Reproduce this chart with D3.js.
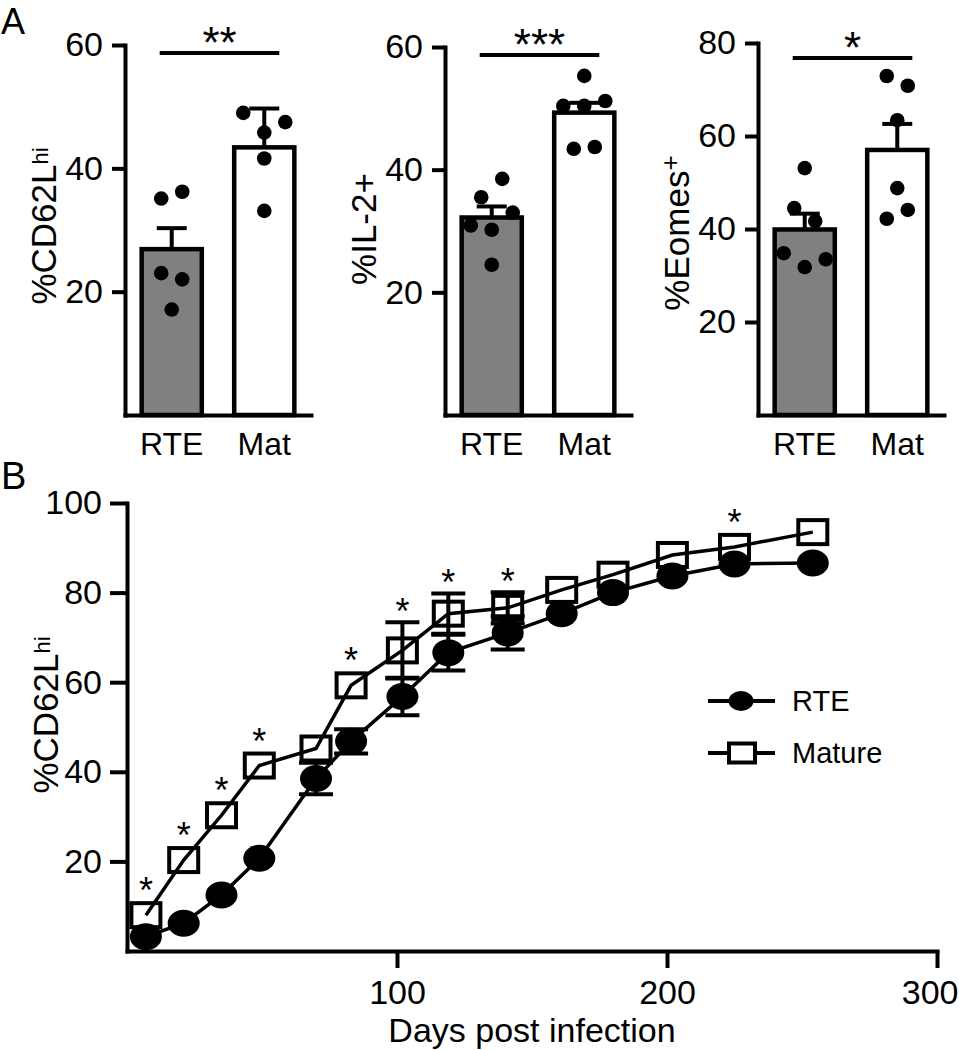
<!DOCTYPE html>
<html><head><meta charset="utf-8">
<script src="https://cdn.jsdelivr.net/npm/d3@7"></script>
<style>
body{margin:0;background:#fff}
svg{display:block}
text{font-family:"Liberation Sans",Arial,Helvetica,sans-serif;fill:#000}
</style>
</head><body>
<svg id="c" width="959" height="1050"></svg>
<script>
// ---------------- DATA ----------------
const catsA = ["RTE", "Mat"];

// Panel A1: %CD62Lhi
const a1Mean = [26.9, 43.4];
const a1Sem = [3.4, 6.3];
const a1Rte = [35.1, 36.2, 23.0, 22.0, 17.1];
const a1Mat = [49.0, 45.8, 47.5, 41.6, 33.1];
const a1Ticks = [20, 40, 60];
const a1Sig = "**";

// Panel A2: %IL-2+
const a2Mean = [32.2, 49.3];
const a2Sem = [1.8, 1.6];
const a2Rte = [35.5, 38.5, 30.9, 30.2, 33.0, 24.5];
const a2Mat = [55.3, 50.4, 50.4, 51.2, 43.4, 43.7];
const a2Ticks = [20, 40, 60];
const a2Sig = "***";

// Panel A3: %Eomes+
const a3Mean = [39.9, 57.0];
const a3Sem = [3.4, 5.6];
const a3Rte = [44.5, 53.1, 41.7, 34.8, 31.8, 33.5];
const a3Mat = [72.9, 70.8, 63.4, 48.8, 42.2, 44.1];
const a3Ticks = [20, 40, 60, 80];
const a3Sig = "*";

// Panel B: %CD62Lhi over time
const days = [7, 21, 35, 49, 70, 83, 102, 119, 141, 161, 180, 202, 225, 254];
const rteMean = [3.2, 6.2, 12.5, 20.7, 38.5, 46.8, 56.8, 66.6, 71.0, 75.3, 80.0, 83.7, 86.4, 86.6];
const rteSem  = [null, null, null, null, 3.5, 2.7, 4.2, 4.0, 3.7, null, null, null, null, null];
const matMean = [8.0, 20.3, 30.3, 41.4, 45.2, 59.3, 67.1, 75.3, 76.6, 80.6, 84.0, 88.4, 90.2, 93.5];
const matSem  = [null, null, null, null, null, null, 6.3, 4.5, 3.5, null, null, null, null, null];
const sigB    = ["*", "*", "*", "*", "", "*", "*", "*", "*", "", "", "", "*", ""];
const bXTicks = [100, 200, 300];
const bYTicks = [20, 40, 60, 80, 100];
const legendLabels = ["RTE", "Mature"];

// ---------------- DRAW ----------------
const svg = d3.select("#c");
const SW = 4;
const barFills = ["#808080", "#ffffff"];

svg.append("text").attr("x", 1).attr("y", 34).attr("font-size", 36).text("A");
svg.append("text").attr("x", 1).attr("y", 489).attr("font-size", 38).text("B");

function swarm(values, y, cx, T, d) {
  const idx = values.map((v, i) => i).sort((a, b) => values[a] - values[b]);
  const rows = [];
  let cur = null;
  idx.forEach(i => {
    const py = y(values[i]);
    if (cur && Math.abs(py - cur.anchor) <= T) cur.members.push(i);
    else { cur = {anchor: py, members: [i]}; rows.push(cur); }
  });
  const out = [];
  rows.forEach(r => {
    const m = r.members.slice().sort((a, b) => a - b);
    m.forEach((i, k) => out.push({v: values[i], x: cx + (k - (m.length - 1) / 2) * d, y: y(values[i])}));
  });
  return out;
}

function styleAxis(g, fs) {
  g.attr("font-family", null).attr("font-size", null);
  g.selectAll("path.domain").attr("stroke", "#000").attr("stroke-width", SW).attr("stroke-linecap", "square");
  g.selectAll(".tick line").attr("stroke", "#000").attr("stroke-width", SW);
  g.selectAll(".tick text").attr("font-size", fs).attr("fill", "#000");
}

function drawBarPanel(p) {
  const g = svg.append("g");
  const bottom = 415;
  const x = d3.scaleBand().domain(catsA).range([p.x0, p.x0 + 186]).paddingInner(0.35).paddingOuter(0.18);
  const y = d3.scaleLinear().domain([0, d3.max(p.ticks)]).range([bottom, p.top]);
  const bw = x.bandwidth();

  // bars
  g.selectAll("rect.bar").data(catsA).join("rect").attr("class", "bar")
    .attr("x", d => x(d)).attr("width", bw)
    .attr("y", (d, i) => y(p.mean[i])).attr("height", (d, i) => y(0) - y(p.mean[i]))
    .attr("fill", (d, i) => barFills[i]).attr("stroke", "#000").attr("stroke-width", 4.5);

  // error bars (upward)
  catsA.forEach((c, i) => {
    const cx = x(c) + bw / 2;
    g.append("line").attr("x1", cx).attr("x2", cx).attr("y1", y(p.mean[i])).attr("y2", y(p.mean[i] + p.sem[i]))
      .attr("stroke", "#000").attr("stroke-width", SW);
    g.append("line").attr("x1", cx - 15).attr("x2", cx + 15).attr("y1", y(p.mean[i] + p.sem[i])).attr("y2", y(p.mean[i] + p.sem[i]))
      .attr("stroke", "#000").attr("stroke-width", SW);
  });

  // y axis
  const ya = g.append("g").attr("transform", `translate(${p.x0},0)`)
    .call(d3.axisLeft(y).tickValues(p.ticks).tickSize(13).tickSizeOuter(0).tickPadding(9));
  styleAxis(ya, 34);
  // x axis (baseline + category labels)
  const xa = g.append("g").attr("transform", `translate(0,${bottom})`)
    .call(d3.axisBottom(x).tickSize(0).tickSizeOuter(0).tickPadding(17));
  styleAxis(xa, 32);

  // dots
  [p.rte, p.mat].forEach((vals, i) => {
    const pts = swarm(vals, y, x(catsA[i]) + bw / 2, 20, 21);
    g.selectAll(null).data(pts).join("circle")
      .attr("cx", d => d.x).attr("cy", d => d.y).attr("r", 7.3).attr("fill", "#000");
  });

  // significance
  const sy = p.top + p.sigGap;
  const sx1 = x(catsA[0]) + bw * 0.3, sx2 = x(catsA[1]) + bw * 0.75;
  g.append("line").attr("x1", sx1).attr("x2", sx2).attr("y1", sy).attr("y2", sy)
    .attr("stroke", "#000").attr("stroke-width", SW);
  g.append("text").attr("x", (sx1 + sx2) / 2).attr("y", sy + 5).attr("text-anchor", "middle")
    .attr("font-size", 44).text(p.sig);

  // y label
  const lab = g.append("text").attr("transform", `translate(${p.x0 - 69},${p.labelY}) rotate(-90)`)
    .attr("text-anchor", "middle").attr("font-size", 35);
  lab.append("tspan").text(p.label);
  if (p.sup) lab.append("tspan").attr("font-size", p.supSize).attr("dy", p.supDy).text(p.sup);
}

drawBarPanel({x0: 125, top: 45, sigGap: 8, ticks: a1Ticks, mean: a1Mean, sem: a1Sem, rte: a1Rte, mat: a1Mat, sig: a1Sig,
  label: "%CD62L", sup: "hi", supSize: 22, supDy: -8, labelY: 226});
drawBarPanel({x0: 445, top: 47, sigGap: 8, ticks: a2Ticks, mean: a2Mean, sem: a2Sem, rte: a2Rte, mat: a2Mat, sig: a2Sig,
  label: "%IL-2+", sup: null, labelY: 229});
drawBarPanel({x0: 758, top: 43, sigGap: 15, ticks: a3Ticks, mean: a3Mean, sem: a3Sem, rte: a3Rte, mat: a3Mat, sig: a3Sig,
  label: "%Eomes", sup: "+", supSize: 26, supDy: -10, labelY: 233});

// ---------- Panel B ----------
(function () {
  const g = svg.append("g");
  const x = d3.scaleLinear().domain([0, 300]).range([127, 937]);
  const y = d3.scaleLinear().domain([0, 100]).range([951, 503]);

  const rte = days.map((d, i) => ({d, v: rteMean[i], e: rteSem[i]}));
  const mat = days.map((d, i) => ({d, v: matMean[i], e: matSem[i], s: sigB[i]}));
  const line = d3.line().x(p => x(p.d)).y(p => y(p.v));

  g.append("path").datum(mat).attr("d", line).attr("fill", "none").attr("stroke", "#000").attr("stroke-width", 3.5);
  g.append("path").datum(rte).attr("d", line).attr("fill", "none").attr("stroke", "#000").attr("stroke-width", 3.5);

  // error bars
  [mat, rte].forEach(ser => {
    ser.filter(p => p.e != null).forEach(p => {
      const cx = x(p.d);
      g.append("line").attr("x1", cx).attr("x2", cx).attr("y1", y(p.v - p.e)).attr("y2", y(p.v + p.e))
        .attr("stroke", "#000").attr("stroke-width", SW);
      [p.v - p.e, p.v + p.e].forEach(v => {
        g.append("line").attr("x1", cx - 17).attr("x2", cx + 17).attr("y1", y(v)).attr("y2", y(v))
          .attr("stroke", "#000").attr("stroke-width", SW);
      });
    });
  });

  // mature squares
  g.selectAll("rect.m").data(mat).join("rect").attr("class", "m")
    .attr("x", p => x(p.d) - 14.5).attr("y", p => y(p.v) - 12).attr("width", 29).attr("height", 24)
    .attr("fill", "none").attr("stroke", "#000").attr("stroke-width", SW);
  // RTE circles
  g.selectAll("ellipse.r").data(rte).join("ellipse").attr("class", "r")
    .attr("cx", p => x(p.d)).attr("cy", p => y(p.v)).attr("rx", 16).attr("ry", 13.5).attr("fill", "#000");

  // stars
  g.selectAll("text.star").data(mat.filter(p => p.s)).join("text").attr("class", "star")
    .attr("x", p => x(p.d)).attr("text-anchor", "middle").attr("font-size", 36)
    .attr("y", p => Math.min(y(p.v) - 14, p.e != null ? y(p.v + p.e) : Infinity) + 2)
    .text(p => p.s);

  // axes
  const ya = g.append("g").attr("transform", "translate(127,0)")
    .call(d3.axisLeft(y).tickValues(bYTicks).tickSize(17).tickSizeOuter(0).tickPadding(8));
  styleAxis(ya, 34);
  const xa = g.append("g").attr("transform", "translate(0,951)")
    .call(d3.axisBottom(x).tickValues(bXTicks).tickSize(17).tickSizeOuter(0).tickPadding(12));
  styleAxis(xa, 34);
  // keep the last tick label inside the page
  xa.selectAll(".tick text").filter(d => d === d3.max(bXTicks)).attr("text-anchor", "end").attr("dx", 21);

  g.append("text").attr("x", 532).attr("y", 1042).attr("text-anchor", "middle").attr("font-size", 34)
    .text("Days post infection");
  const lab = g.append("text").attr("transform", "translate(58,715) rotate(-90)")
    .attr("text-anchor", "middle").attr("font-size", 35);
  lab.append("tspan").text("%CD62L");
  lab.append("tspan").attr("font-size", 22).attr("dy", -8).text("hi");

  // legend
  const lg = g.append("g");
  const ly = [701, 753];
  ly.forEach((yy, i) => {
    lg.append("line").attr("x1", 708).attr("x2", 775).attr("y1", yy).attr("y2", yy)
      .attr("stroke", "#000").attr("stroke-width", SW);
    lg.append("text").attr("x", 792).attr("y", yy + 10).attr("font-size", 29).text(legendLabels[i]);
  });
  lg.append("ellipse").attr("cx", 741).attr("cy", ly[0]).attr("rx", 12.5).attr("ry", 10).attr("fill", "#000");
  lg.append("rect").attr("x", 729).attr("y", ly[1] - 9.5).attr("width", 26).attr("height", 19)
    .attr("fill", "#fff").attr("stroke", "#000").attr("stroke-width", SW);
})();
</script>
</body></html>
